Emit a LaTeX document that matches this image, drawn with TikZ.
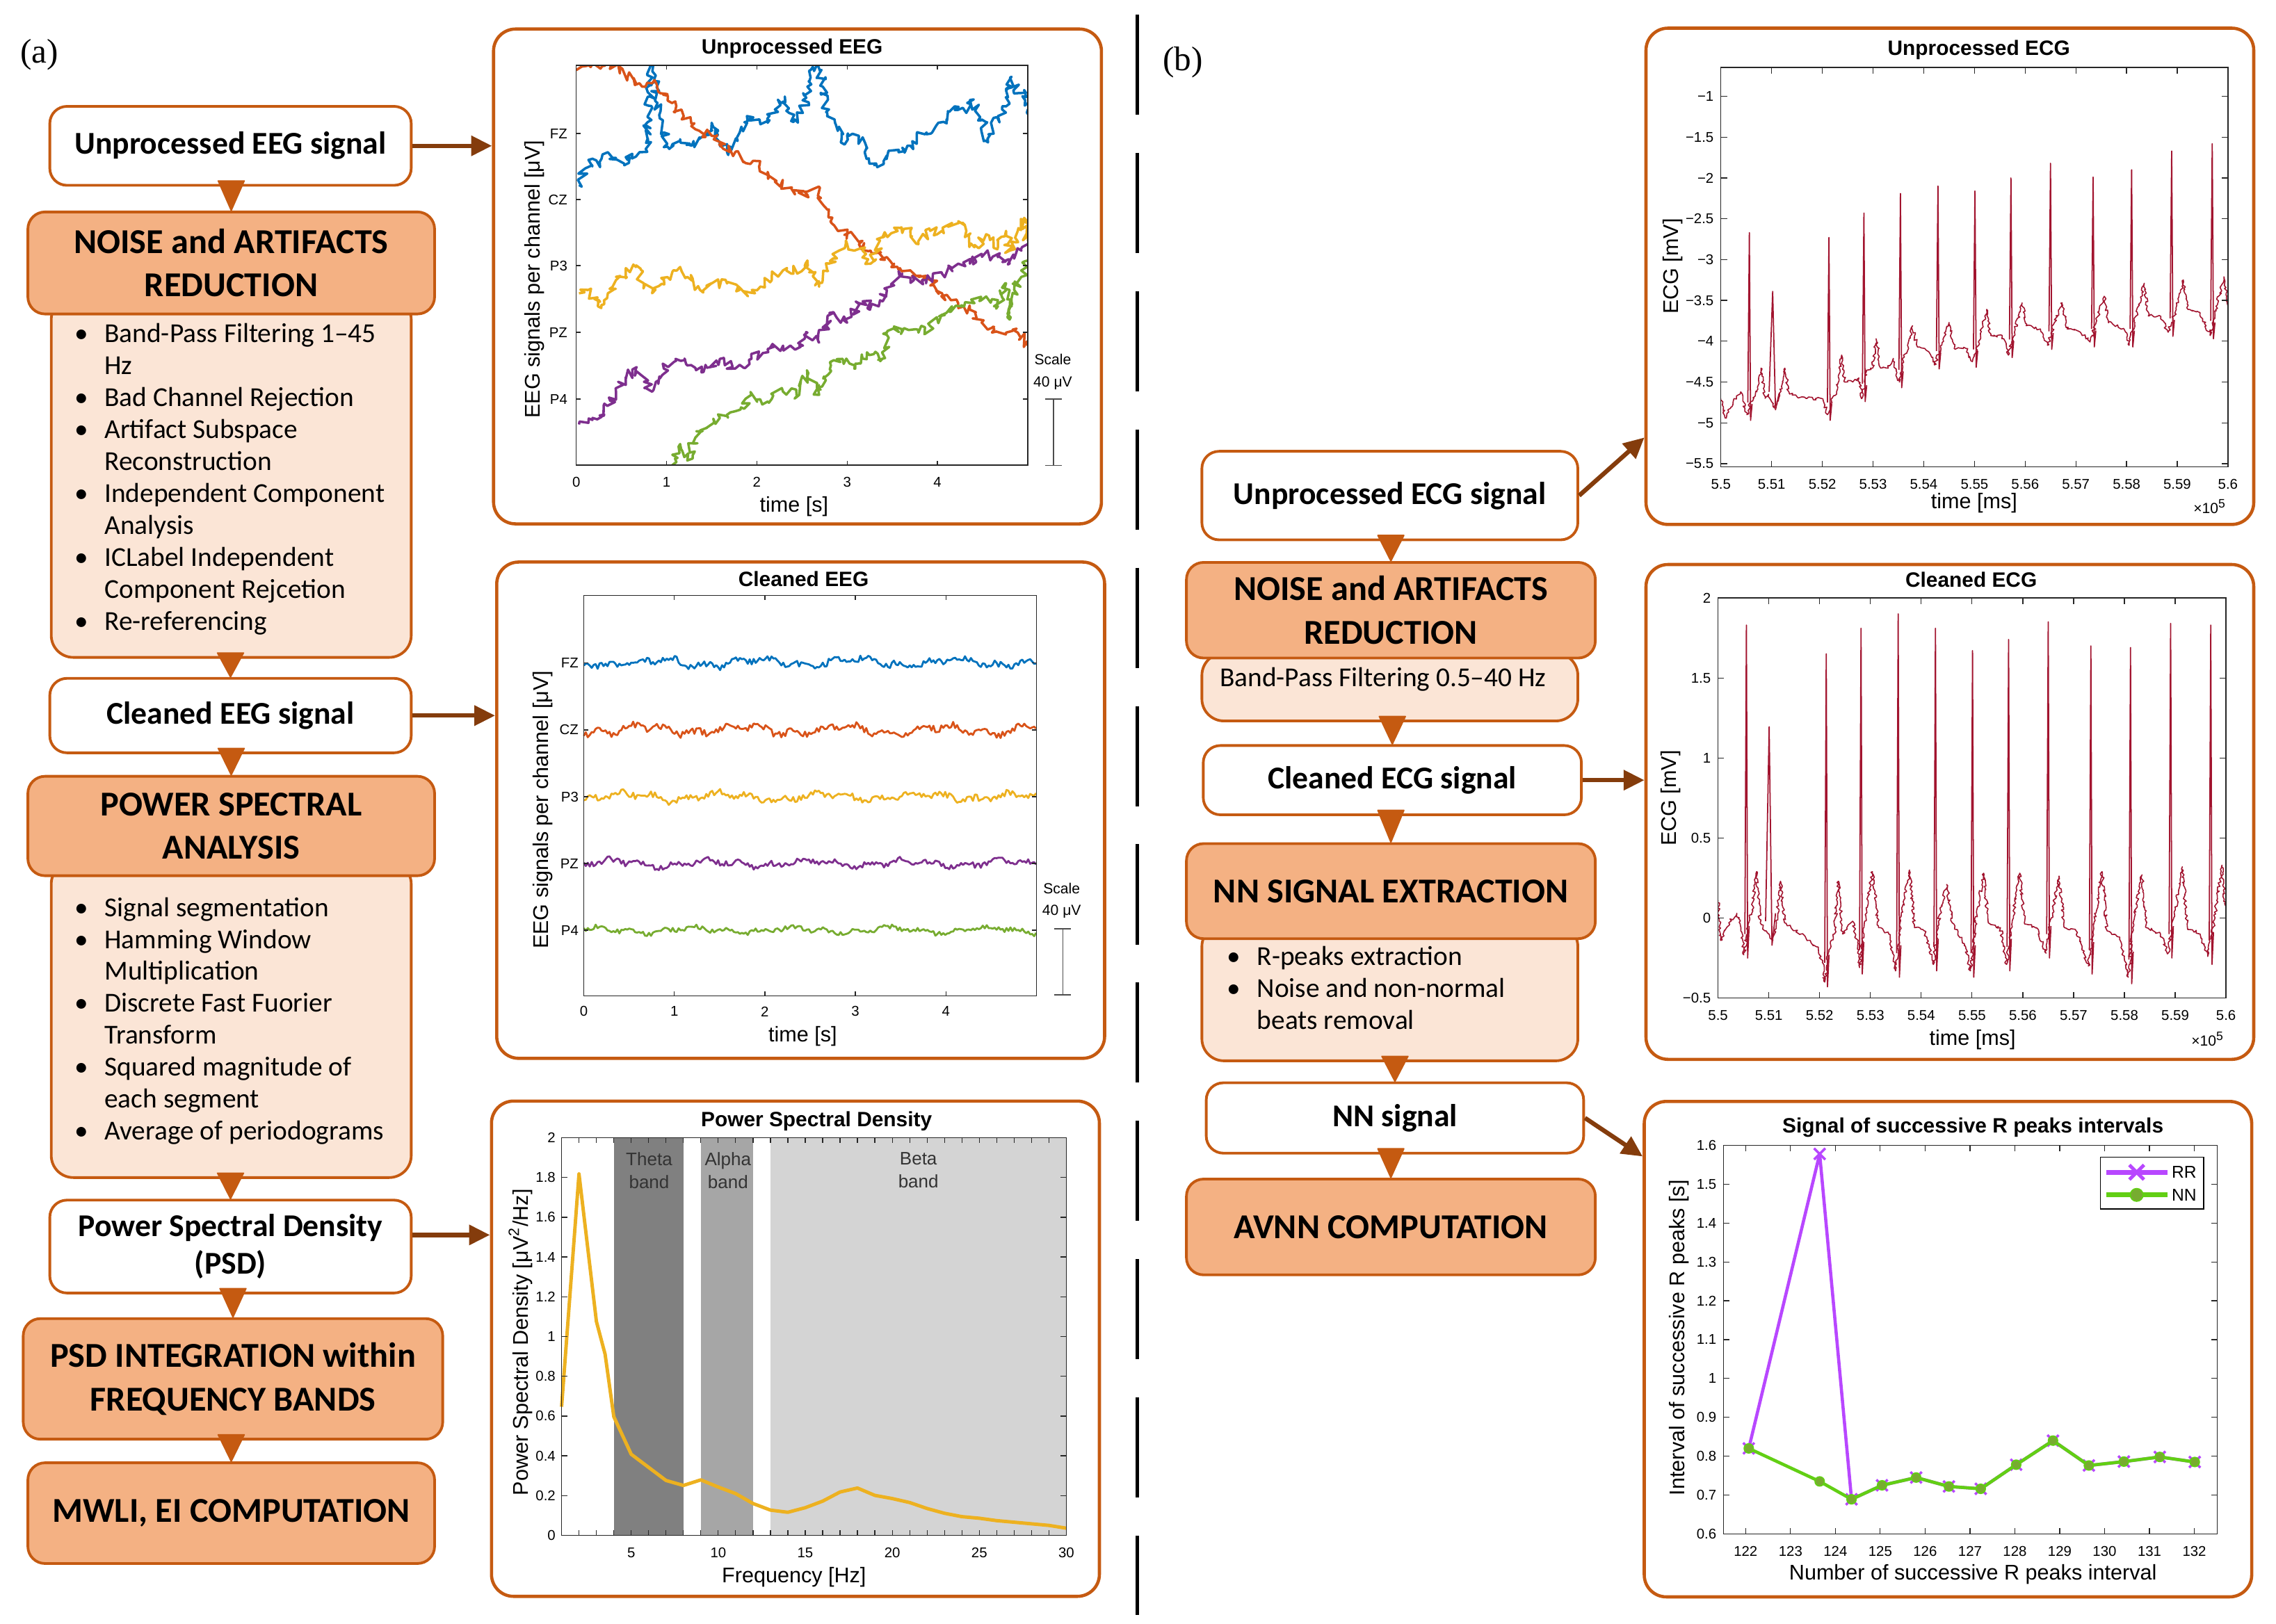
\documentclass[tikz,border=0pt]{standalone}
\usepackage{fontspec}
\setmainfont{Carlito}
\newfontfamily\plotfont{Liberation Sans}
\newfontfamily\letterfont{Liberation Serif}
\usepackage{tikz}
\usetikzlibrary{arrows.meta, calc, decorations.pathmorphing}

\definecolor{boxline}{HTML}{C55A11}
\definecolor{stepfill}{HTML}{F4B183}
\definecolor{listfill}{HTML}{FBE5D6}
\definecolor{linkbrown}{HTML}{843C0C}
\definecolor{eegblue}{HTML}{0072BD}
\definecolor{eegorange}{HTML}{D95319}
\definecolor{eegyellow}{HTML}{EDB120}
\definecolor{eegpurple}{HTML}{7E2F8E}
\definecolor{eeggreen}{HTML}{77AC30}
\definecolor{ecgred}{HTML}{A2142F}
\definecolor{rrpurple}{HTML}{B847FF}
\definecolor{nngreen}{HTML}{62CF14}
\definecolor{nnmark}{HTML}{77AC30}
\definecolor{thetagray}{HTML}{808080}
\definecolor{alphagray}{HTML}{A6A6A6}
\definecolor{betagray}{HTML}{D4D4D4}

\newcommand\pxl{0.5939pt}
\newcommand\bulitem[1]{\makebox[12.3pt][l]{\textbullet}#1}
\newcommand\contitem[1]{\hspace*{12.3pt}#1}
\newcommand\flowdown[2]{%
  \filldraw[flowtri] ($(#2.north |- #1.south)+(-9,-4)$) -- ($(#2.north |- #1.south)+(9,-4)$) -- (#2.north) -- cycle;}

\tikzset{
  flowbox/.style={draw=boxline, line width=1.1pt, rounded corners=7pt, fill=white,
    align=center, inner sep=0pt, font=\bfseries\fontsize{13}{15.4}\selectfont},
  stepbox/.style={flowbox, fill=stepfill, font=\bfseries\fontsize{14.3}{17.8}\selectfont},
  listbox/.style={draw=boxline, line width=1.1pt, rounded corners=9pt, fill=listfill, inner sep=0pt},
  listtext/.style={align=left, inner sep=0pt, font=\fontsize{11.2}{13.08}\selectfont},
  flowtri/.style={fill=boxline, draw=boxline, line width=0.5pt, line join=round},
  link/.style={draw=linkbrown, line width=1.8pt, -{Triangle[length=8.5pt,width=8pt]}},
  divider/.style={line width=1.4pt, dash pattern=on 41pt off 15.6pt},
  letter/.style={font=\letterfont\fontsize{14}{16}\selectfont},
  panel/.style={draw=boxline, line width=1.3pt, rounded corners=9pt, fill=white, inner sep=0pt},
  plottitle/.style={font=\plotfont\bfseries\fontsize{8.5}{10}\selectfont},
  axislabel/.style={font=\plotfont\fontsize{8.7}{10}\selectfont},
  ticklabel/.style={font=\plotfont\fontsize{5.8}{7}\selectfont, inner sep=0.5pt},
  smalllabel/.style={font=\plotfont\fontsize{6}{7}\selectfont, inner sep=0.5pt},
  bandlabel/.style={font=\plotfont\fontsize{7.4}{9.3}\selectfont, text=black!80, align=center},
  legtext/.style={font=\plotfont\fontsize{7}{8}\selectfont, inner sep=0.5pt},
  axisline/.style={draw=black!85, line width=0.35pt},
  scalebar/.style={draw=black!70, line width=0.5pt},
  rawtrace/.style={line width=1pt, line join=round, decorate,
    decoration={random steps, segment length=1.2pt, amplitude=2pt}},
  cleantrace/.style={line width=0.8pt, line join=round},
  ecgtrace/.style={draw=ecgred, line width=0.45pt, line join=round, decorate,
    decoration={random steps, segment length=0.8pt, amplitude=0.65pt}},
  spike/.style={draw=ecgred, line width=0.5pt, line join=round},
  psdline/.style={draw=eegyellow, line width=1.4pt, line join=round},
  rrline/.style={draw=rrpurple, line width=1.3pt, line join=round},
  nnline/.style={draw=nngreen, line width=1.3pt, line join=round},
}

\begin{document}
\begin{tikzpicture}[x=0.020874cm, y=-0.020874cm]
\useasboundingbox (0,0) rectangle (1568,1119);
\pgfmathsetseed{2718}

% Panel letters and divider
\node[letter] (laba) at (27,37.5) {(a)};
\node[letter] (labb) at (815,43) {(b)};
\draw[divider] (783.6,10) -- (783.6,1113);

% EEG flow
\node[listbox, minimum width=248*\pxl, minimum height=248*\pxl] (nar1list) at (159.3,329) {};
\node[listtext, anchor=north west] (nar1txt) at (51,222.6) {\bulitem{Band-Pass Filtering 1–45}\\\contitem{Hz}\\\bulitem{Bad Channel Rejection}\\\bulitem{Artifact Subspace}\\\contitem{Reconstruction}\\\bulitem{Independent Component}\\\contitem{Analysis}\\\bulitem{ICLabel Independent}\\\contitem{Component Rejcetion}\\\bulitem{Re-referencing}};
\node[stepbox, minimum width=280.2*\pxl, minimum height=70.3*\pxl] (nar1) at (159.3,181.2) {NOISE and ARTIFACTS\\REDUCTION};
\node[flowbox, minimum width=249*\pxl, minimum height=54.4*\pxl] (ueeg) at (158.8,100.5) {Unprocessed EEG signal};
\node[flowbox, minimum width=249*\pxl, minimum height=51.3*\pxl] (ceeg) at (158.8,493.1) {Cleaned EEG signal};
\node[listbox, minimum width=248*\pxl, minimum height=217.5*\pxl] (psalist) at (159.3,702.7) {};
\node[listtext, anchor=north west] (psatxt) at (51,618) {\bulitem{Signal segmentation}\\\bulitem{Hamming Window}\\\contitem{Multiplication}\\\bulitem{Discrete Fast Fuorier}\\\contitem{Transform}\\\bulitem{Squared magnitude of}\\\contitem{each segment}\\\bulitem{Average of periodograms}};
\node[stepbox, minimum width=280.2*\pxl, minimum height=68.5*\pxl] (psa) at (159.3,569.2) {POWER SPECTRAL\\ANALYSIS};
\node[flowbox, minimum width=249*\pxl, minimum height=64*\pxl] (psd) at (158.8,859) {Power Spectral Density\\(PSD)};
\node[stepbox, minimum width=289*\pxl, minimum height=83.1*\pxl] (psdint) at (160.5,950.2) {PSD INTEGRATION within\\FREQUENCY BANDS};
\node[stepbox, minimum width=280.2*\pxl, minimum height=69.4*\pxl] (mwli) at (159.3,1042.7) {MWLI, EI COMPUTATION};

\flowdown{ueeg}{nar1}
\flowdown{nar1list}{ceeg}
\flowdown{ceeg}{psa}
\flowdown{psalist}{psd}
\flowdown{psd}{psdint}
\flowdown{psdint}{mwli}

% ECG flow
\node[flowbox, minimum width=259*\pxl, minimum height=61*\pxl] (uecg) at (957.5,341.5) {Unprocessed ECG signal};
\node[listbox, minimum width=259*\pxl, minimum height=46.6*\pxl] (nar2list) at (957.5,473.5) {};
\node[listtext] (nar2txt) at (952.8,468) {Band-Pass Filtering 0.5–40 Hz};
\node[stepbox, minimum width=281.7*\pxl, minimum height=65.9*\pxl] (nar2) at (958.2,420.5) {NOISE and ARTIFACTS\\REDUCTION};
\node[flowbox, minimum width=260.5*\pxl, minimum height=47.7*\pxl] (cecg) at (959.2,537.6) {Cleaned ECG signal};
\node[listbox, minimum width=259*\pxl, minimum height=94*\pxl] (nnxlist) at (957.5,684) {};
\node[listtext, anchor=north west] (nnxtxt) at (845,651.8) {\bulitem{R-peaks extraction}\\\bulitem{Noise and non-normal}\\\contitem{beats removal}};
\node[stepbox, minimum width=281.7*\pxl, minimum height=65.5*\pxl] (nnx) at (958.2,614.1) {NN SIGNAL EXTRACTION};
\node[flowbox, minimum width=260*\pxl, minimum height=48.5*\pxl] (nnsig) at (961,770.4) {NN signal};
\node[stepbox, minimum width=281.7*\pxl, minimum height=66*\pxl] (avnn) at (958.2,845.5) {AVNN COMPUTATION};

\flowdown{uecg}{nar2}
\flowdown{nar2list}{cecg}
\flowdown{cecg}{nnx}
\flowdown{nnxlist}{nnsig}
\flowdown{nnsig}{avnn}

% Unprocessed EEG
\node[panel, minimum width=418.8*\pxl, minimum height=341*\pxl] (p1) at (549.4,190.5) {};
\node[plottitle] (p1title) at (545.7,33.6) {Unprocessed EEG};
\node[axislabel] (p1xlab) at (547,349) {time [s]};
\node[axislabel, rotate=90] (p1ylab) at (368.3,192.4) {EEG signals per channel [μV]};
\begin{scope}[shift={(397,0)}, x=1.2984cm]
  \begin{scope}
    \clip (0,45) rectangle (5,320.5);
    \draw[rawtrace, eegblue] plot coordinates {(0.03,127.5) (0.1,116) (0.18,109.4) (0.26,112) (0.35,104.9) (0.45,110) (0.53,113.9) (0.62,106) (0.70,104.9) (0.77,102.6) (0.815,66.5) (0.85,44) (0.90,71) (0.97,91.3) (1.03,102.6) (1.15,95.9) (1.28,100.4) (1.41,93.6) (1.50,84.6) (1.59,98.1) (1.67,104.9) (1.81,91.3) (1.89,80) (2.03,82.3) (2.12,84.6) (2.20,75.5) (2.31,66.5) (2.42,82.3) (2.51,77.8) (2.56,59.7) (2.62,46.1) (2.67,44) (2.73,59.7) (2.78,77.8) (2.86,82.3) (2.93,98.1) (3.00,93.6) (3.13,93.6) (3.24,109.4) (3.30,113.9) (3.44,107.1) (3.57,104.9) (3.70,100.4) (3.79,91.3) (3.88,91.3) (4.01,84.6) (4.10,82.3) (4.19,73.3) (4.32,77.8) (4.38,68.7) (4.49,82.3) (4.56,98.1) (4.67,80) (4.76,73.3) (4.82,52.9) (4.89,64.2) (4.96,62) (5.0,82.3)};
    \draw[rawtrace, eegorange] plot coordinates {(0.0,48.4) (0.11,43.4) (0.44,45) (0.57,52.9) (0.70,57.4) (0.84,57.4) (0.93,64.2) (1.06,71) (1.19,80) (1.32,89.1) (1.50,93.6) (1.63,102.6) (1.76,104.9) (1.85,111.7) (2.03,113.9) (2.12,118.5) (2.20,125.2) (2.38,129.8) (2.56,134.3) (2.64,129.8) (2.71,136.5) (2.82,152.4) (2.91,159.1) (3.00,161.4) (3.13,168.2) (3.26,172.7) (3.44,177.2) (3.52,181.7) (3.70,186.3) (3.79,190.8) (3.92,193) (4.05,202.1) (4.23,208.9) (4.36,213.4) (4.49,222.4) (4.63,227) (4.76,229.2) (4.89,229.2) (5.0,238.2)};
    \draw[rawtrace, eegyellow] plot coordinates {(0.03,202.1) (0.13,199.8) (0.24,211.1) (0.35,202.1) (0.44,193) (0.66,184) (0.75,195.3) (0.84,202.1) (0.97,193) (1.15,184) (1.23,190.8) (1.37,199.8) (1.50,195.3) (1.67,195.3) (1.81,199.8) (1.98,202.1) (2.12,193) (2.29,186.3) (2.38,188.5) (2.56,179.5) (2.69,197.6) (2.78,186.3) (2.91,172.7) (3.00,168.2) (3.08,172.7) (3.17,172.7) (3.26,181.7) (3.39,163.7) (3.52,156.9) (3.70,159.1) (3.79,168.2) (3.92,159.1) (4.05,159.1) (4.23,152.4) (4.32,159.1) (4.41,170.4) (4.54,161.4) (4.67,170.4) (4.76,159.1) (4.80,172.7) (4.89,159.1) (4.96,150.1) (5.0,165.9)};
    \draw[rawtrace, eegpurple] plot coordinates {(0.03,292.5) (0.18,288) (0.31,285.7) (0.44,269.9) (0.55,260.8) (0.66,254) (0.75,263.1) (0.84,269.9) (0.97,254) (1.10,247.3) (1.23,251.8) (1.41,256.3) (1.59,247.3) (1.76,254) (1.94,247.3) (2.12,240.5) (2.29,238.2) (2.47,238.2) (2.56,229.2) (2.69,236) (2.82,215.6) (3.00,222.4) (3.13,208.9) (3.35,211.1) (3.44,199.8) (3.61,188.5) (3.74,193) (3.88,193) (4.05,188.5) (4.23,181.7) (4.36,181.7) (4.49,174.9) (4.67,177.2) (4.80,181.7) (4.93,172.7) (5.0,168.2)};
    \draw[rawtrace, eeggreen] plot coordinates {(1.0,330) (1.06,320.7) (1.15,306) (1.23,317.3) (1.32,301.5) (1.45,294.7) (1.59,288) (1.76,283.4) (1.94,272.1) (2.12,276.7) (2.29,269.9) (2.47,272.1) (2.56,256.3) (2.69,272.1) (2.82,251.8) (2.95,247.3) (3.08,254) (3.22,242.8) (3.39,247.3) (3.44,229.2) (3.61,226.9) (3.79,229.2) (3.92,224.7) (4.10,215.6) (4.27,211.1) (4.41,208.9) (4.54,204.3) (4.67,211.1) (4.76,195.3) (4.80,220.2) (4.85,199.8) (4.93,190.8) (5.0,179.5)};
  \end{scope}
  \draw[axisline] (0,45) rectangle (5,320.5);
  \foreach \t in {0,...,4} {
    \draw[axisline] (\t,320.5) -- ++(0,-3) (\t,45) -- ++(0,3);
    \node[ticklabel] (p1x\t) at (\t,332) {\t};
  }
  \foreach \c/\lev in {FZ/92,CZ/137.5,P3/183,PZ/229,P4/275} {
    \draw[axisline] (0,\lev) -- ++(0.05,0) (5,\lev) -- ++(-0.05,0);
    \node[ticklabel, anchor=east] (p1c\c) at (-0.08,\lev) {\c};
  }
\end{scope}
\node[smalllabel] (p1scale) at (725.3,247.7) {Scale};
\node[smalllabel] (p1amp) at (725.3,264) {40 μV};
\draw[scalebar] (720.1,275) -- (731.5,275) (725.8,275) -- (725.8,320.7) (720.1,320.7) -- (731.5,320.7);

% Cleaned EEG
\node[panel, minimum width=418.8*\pxl, minimum height=342*\pxl] (p2) at (551.6,558.3) {};
\node[plottitle] (p2title) at (553.6,399) {Cleaned EEG};
\node[axislabel] (p2xlab) at (553,714.3) {time [s]};
\node[axislabel, rotate=90] (p2ylab) at (373.9,558) {EEG signals per channel [μV]};
\begin{scope}[shift={(402.2,0)}, x=1.3017cm]
  \foreach \lev/\col/\a/\b/\n/\ph in {456.7/eegblue/2.2/1.6/2.2/0, 503/eegorange/2.4/1.7/2.4/50, 549/eegyellow/2.2/1.6/2.2/110, 595/eegpurple/1.8/1.3/1.8/170, 641/eeggreen/1.6/1.2/1.6/230}
    \draw[cleantrace, \col] plot[domain=0:5, samples=230] (\x, {\lev + \a*sin(\x*330+\ph) + \b*sin(\x*1010+2*\ph) + \n*rand});
  \draw[axisline] (0,410.4) rectangle (5,686.2);
  \foreach \t in {0,...,4} {
    \draw[axisline] (\t,686.2) -- ++(0,-3) (\t,410.4) -- ++(0,3);
    \node[ticklabel] (p2x\t) at (\t,697) {\t};
  }
  \foreach \c/\lev in {FZ/456.7,CZ/503,P3/549,PZ/595,P4/641} {
    \draw[axisline] (0,\lev) -- ++(0.05,0) (5,\lev) -- ++(-0.05,0);
    \node[ticklabel, anchor=east] (p2c\c) at (-0.04,\lev) {\c};
  }
\end{scope}
\node[smalllabel] (p2scale) at (731.4,612) {Scale};
\node[smalllabel] (p2amp) at (731.4,628) {40 μV};
\draw[scalebar] (726.4,639.9) -- (737.7,639.9) (732.2,639.9) -- (732.2,685.5) (726.4,685.5) -- (737.7,685.5);

% Power spectral density
\node[panel, minimum width=418.8*\pxl, minimum height=341.3*\pxl] (p3) at (548,929.4) {};
\node[plottitle] (p3title) at (562.5,772.7) {Power Spectral Density};
\node[axislabel] (p3xlab) at (547,1087) {Frequency [Hz]};
\node[axislabel, rotate=90] (p3ylab) at (358.7,925) {Power Spectral Density [μV\textsuperscript{2}/Hz]};
\begin{scope}[shift={(374.9,1058)}, x=0.25028cm, y=2.8597cm]
  \fill[thetagray] (4,0) rectangle (8,2);
  \fill[alphagray] (9,0) rectangle (12,2);
  \fill[betagray] (13,0) rectangle (30,2);
  \draw[psdline] plot coordinates {(1,0.647) (2,1.818) (3,1.076) (3.5,0.911) (4,0.597) (5,0.408) (6,0.342) (7,0.276) (8,0.251) (9,0.279) (10,0.243) (11,0.21) (12,0.16) (13,0.127) (14,0.116) (15,0.139) (16,0.172) (17,0.218) (18,0.238) (19,0.201) (20,0.185) (21,0.165) (22,0.135) (23,0.111) (24,0.094) (25,0.086) (26,0.074) (27,0.066) (28,0.058) (29,0.05) (30,0.036)};
  \draw[axisline] (1,0) rectangle (30,2);
  \foreach \f in {1,...,30}
    \draw[axisline] (\f,0) -- ++(0pt,2.2pt) (\f,2) -- ++(0pt,-2.2pt);
  \foreach \f in {5,10,...,30}
    \node[ticklabel, anchor=north, yshift=-4.3pt] (p3x\f) at (\f,0) {\f};
  \foreach \v [count=\k] in {0,0.2,0.4,0.6,0.8,1,1.2,1.4,1.6,1.8,2} {
    \draw[axisline] (1,\v) -- ++(2.5pt,0pt) (30,\v) -- ++(-2.5pt,0pt);
    \node[ticklabel, anchor=east, xshift=-1.8pt] (p3y\k) at (1,\v) {\v};
  }
\end{scope}
\node[bandlabel] (theta) at (447.2,806.5) {Theta\\band};
\node[bandlabel] (alpha) at (501.5,806.5) {Alpha\\band};
\node[bandlabel] (beta) at (632.7,806.5) {Beta\\band};

% Unprocessed ECG
\node[panel, minimum width=418.7*\pxl, minimum height=342*\pxl] (p4) at (1343.3,190.4) {};
\node[plottitle] (p4title) at (1363.3,34.3) {Unprocessed ECG};
\node[axislabel] (p4xlab) at (1360,346.7) {time [ms]};
\node[axislabel, rotate=90] (p4ylab) at (1152.6,183.5) {ECG [mV]};
\node[smalllabel] (p4exp) at (1522.5,349) {×10\textsuperscript{5}};
\begin{scope}[shift={(1185.6,10.16)}, x=0.072913cm, y=1.17396cm]
  \begin{scope}
    \clip (0,-5.54) rectangle (100,-0.646);
    \draw[ecgtrace] plot coordinates {(0,-4.70) (0.8,-4.94) (2.4,-4.74) (3.9,-4.62) (5.1,-4.90) (5.9,-4.74) (7.1,-4.62) (7.9,-4.33) (8.7,-4.70) (9.4,-4.65) (10.6,-4.82) (11.4,-4.70) (12.6,-4.33) (13.4,-4.62) (15,-4.68) (17,-4.70) (19.7,-4.70) (20.5,-4.78) (21.0,-4.90) (21.9,-4.70) (22.8,-4.62) (23.8,-4.17) (24.4,-4.50) (26,-4.50) (27.2,-4.45) (27.8,-4.70) (28.7,-4.37) (29.9,-4.33) (30.6,-3.97) (31.5,-4.33) (33,-4.33) (34,-4.21) (34.6,-4.37) (35.2,-4.50) (36,-4.17) (37,-4.09) (37.8,-3.81) (38.6,-4.05) (41,-4.13) (42.1,-4.29) (43.4,-4.09) (45,-3.77) (46,-4.09) (48.4,-4.09) (49.6,-4.25) (50.8,-4.01) (52.4,-3.61) (53.2,-3.93) (55.5,-3.93) (56.7,-4.17) (57.9,-3.89) (59.4,-3.53) (60.2,-3.81) (63,-3.85) (64.4,-4.05) (65.8,-3.77) (67.3,-3.53) (68.3,-3.85) (70.9,-3.89) (72.8,-4.01) (74.0,-3.77) (75.6,-3.45) (76.4,-3.77) (79.5,-3.85) (80.5,-4.05) (81.9,-3.69) (83.5,-3.29) (84.3,-3.69) (86.6,-3.69) (88.2,-3.89) (89.8,-3.61) (91.2,-3.25) (92.1,-3.61) (94.5,-3.65) (96.5,-3.93) (97.6,-3.61) (99.2,-3.21) (100,-3.57)};
    \foreach \r/\p/\b/\w in {5.6/-2.67/-4.85/0.3, 10.2/-3.39/-4.72/0.7, 21.3/-2.73/-4.85/0.3, 28.2/-2.43/-4.62/0.3, 35.4/-2.19/-4.45/0.3, 42.8/-2.10/-4.22/0.3, 50.1/-2.16/-4.2/0.3, 57.2/-2.0/-4.08/0.3, 65.0/-1.82/-3.98/0.3, 73.4/-1.99/-3.95/0.3, 81.0/-1.90/-3.95/0.3, 88.9/-1.67/-3.82/0.3, 96.9/-1.58/-3.85/0.3}
      \draw[spike] (\r-\w,\b+0.1) -- (\r,\p) -- (\r+0.8*\w,\b-0.12) -- (\r+1.8*\w,\b+0.08);
  \end{scope}
  \draw[axisline] (0,-5.54) rectangle (100,-0.646);
  \foreach \u/\lab [count=\k] in {0/5.5,10/5.51,20/5.52,30/5.53,40/5.54,50/5.55,60/5.56,70/5.57,80/5.58,90/5.59,100/5.6} {
    \draw[axisline] (\u,-5.54) -- ++(0pt,2.5pt) (\u,-0.646) -- ++(0pt,-2.5pt);
    \node[ticklabel, anchor=north, yshift=-4.3pt] (p4x\k) at (\u,-5.54) {\lab};
  }
  \foreach \v/\lab [count=\k] in {-1/−1,-1.5/−1.5,-2/−2,-2.5/−2.5,-3/−3,-3.5/−3.5,-4/−4,-4.5/−4.5,-5/−5,-5.5/−5.5} {
    \draw[axisline] (0,\v) -- ++(2.5pt,0pt) (100,\v) -- ++(-2.5pt,0pt);
    \node[ticklabel, anchor=east, xshift=-2.3pt] (p4y\k) at (0,\v) {\lab};
  }
\end{scope}

% Cleaned ECG
\node[panel, minimum width=418.7*\pxl, minimum height=341*\pxl] (p5) at (1343.3,559.5) {};
\node[plottitle] (p5title) at (1358,399.5) {Cleaned ECG};
\node[axislabel] (p5xlab) at (1358.9,716.7) {time [ms]};
\node[axislabel, rotate=90] (p5ylab) at (1151,550) {ECG [mV]};
\node[smalllabel] (p5exp) at (1521,716) {×10\textsuperscript{5}};
\begin{scope}[shift={(1183.6,632.6)}, x=0.073038cm, y=2.3024cm]
  \begin{scope}
    \clip (0,-0.5) rectangle (100,2);
    \draw[ecgtrace] plot coordinates {(0,0.11) (0.55,-0.14) (2.1,-0.03) (3.7,0.03) (4.5,-0.06) (5.1,-0.23) (6.05,-0.03) (6.7,0.05) (7.6,0.29) (8.3,-0.03) (9.2,-0.08) (10.8,-0.14) (11.5,-0.03) (12.3,0.23) (13.1,-0.03) (16.3,-0.10) (19.4,-0.18) (20.6,-0.28) (21.0,-0.40) (21.8,-0.20) (22.9,-0.10) (23.7,0.23) (24.5,-0.10) (26.5,-0.02) (27.7,-0.20) (27.9,-0.31) (28.9,-0.02) (30.4,0.29) (31.6,-0.06) (33.6,-0.10) (34.9,-0.33) (35.9,-0.02) (37.7,0.30) (38.7,-0.06) (40.6,-0.08) (42.4,-0.29) (43.4,-0.02) (45.0,0.21) (46.1,-0.03) (48.5,-0.16) (49.7,-0.33) (50.7,-0.02) (52.3,0.28) (53.2,-0.03) (55.6,-0.06) (56.8,-0.29) (57.9,-0.02) (59.4,0.28) (60.3,-0.03) (62.7,-0.06) (64.6,-0.22) (65.6,0.0) (67.1,0.26) (68.2,-0.06) (70.5,-0.08) (72.9,-0.30) (74.1,-0.02) (75.6,0.29) (76.6,-0.08) (79.1,-0.12) (80.8,-0.37) (81.7,-0.03) (83.5,0.27) (84.3,-0.06) (87.1,-0.10) (88.6,-0.22) (89.7,0.0) (91.4,0.32) (92.4,-0.06) (94.9,-0.10) (96.4,-0.24) (97.6,-0.03) (99.2,0.33) (100,0.0)};
    \foreach \r/\p/\b/\w in {5.58/1.83/-0.2/0.3, 10.06/1.195/-0.12/0.7, 21.3/1.65/-0.38/0.3, 28.15/1.81/-0.3/0.3, 35.46/1.90/-0.32/0.3, 42.8/1.81/-0.28/0.3, 50.1/1.67/-0.32/0.3, 57.2/1.74/-0.28/0.3, 65.0/1.85/-0.2/0.3, 73.4/1.70/-0.3/0.3, 81.2/1.69/-0.36/0.3, 89.1/1.84/-0.2/0.3, 97.0/1.83/-0.24/0.3}
      \draw[spike] (\r-\w,\b+0.1) -- (\r,\p) -- (\r+0.8*\w,\b-0.05) -- (\r+1.8*\w,\b+0.15);
  \end{scope}
  \draw[axisline] (0,-0.5) rectangle (100,2);
  \foreach \u/\lab [count=\k] in {0/5.5,10/5.51,20/5.52,30/5.53,40/5.54,50/5.55,60/5.56,70/5.57,80/5.58,90/5.59,100/5.6} {
    \draw[axisline] (\u,-0.5) -- ++(0pt,2.5pt) (\u,2) -- ++(0pt,-2.5pt);
    \node[ticklabel, anchor=north, yshift=-4.3pt] (p5x\k) at (\u,-0.5) {\lab};
  }
  \foreach \v/\lab [count=\k] in {2/2,1.5/1.5,1/1,0.5/0.5,0/0,-0.5/−0.5} {
    \draw[axisline] (0,\v) -- ++(2.5pt,0pt) (100,\v) -- ++(-2.5pt,0pt);
    \node[ticklabel, anchor=east, xshift=-2.3pt] (p5y\k) at (0,\v) {\lab};
  }
\end{scope}

% R peak intervals
\node[panel, minimum width=418.5*\pxl, minimum height=341.4*\pxl] (p6) at (1342,929.7) {};
\node[plottitle] (p6title) at (1359.2,777) {Signal of successive R peaks intervals};
\node[axislabel] (p6xlab) at (1359.2,1084.7) {Number of successive R peaks interval};
\node[axislabel, rotate=90] (p6ylab) at (1156.7,921.8) {Interval of successive R peaks [s]};
\begin{scope}[shift={(1202.6,1217.6)}, x=0.64522cm, y=5.58797cm]
  \draw[axisline] (-0.49,0.6) rectangle (10.51,1.6);
  \foreach \n/\lab in {0/122,1/123,2/124,3/125,4/126,5/127,6/128,7/129,8/130,9/131,10/132} {
    \draw[axisline] (\n,0.6) -- ++(0pt,2.5pt) (\n,1.6) -- ++(0pt,-2.5pt);
    \node[ticklabel, anchor=north, yshift=-4.3pt] (p6x\lab) at (\n,0.6) {\lab};
  }
  \foreach \v [count=\k] in {0.6,0.7,0.8,0.9,1,1.1,1.2,1.3,1.4,1.5,1.6} {
    \draw[axisline] (-0.49,\v) -- ++(2.5pt,0pt) (10.51,\v) -- ++(-2.5pt,0pt);
    \node[ticklabel, anchor=east, xshift=-2.3pt] (p6y\k) at (-0.49,\v) {\v};
  }
  \draw[rrline] plot coordinates {(0.07,0.82) (1.65,1.578) (2.36,0.689) (3.04,0.725) (3.8,0.745) (4.53,0.722) (5.24,0.716) (6.03,0.778) (6.85,0.84) (7.65,0.776) (8.43,0.786) (9.23,0.798) (10.01,0.785)};
  \foreach \n/\v in {0.07/0.82, 1.65/1.578, 2.36/0.689, 3.04/0.725, 3.8/0.745, 4.53/0.722, 5.24/0.716, 6.03/0.778, 6.85/0.84, 7.65/0.776, 8.43/0.786, 9.23/0.798, 10.01/0.785}
    \draw[rrpurple, line width=1pt] (\n,\v) ++(-2.3pt,-2.3pt) -- ++(4.6pt,4.6pt) ++(-4.6pt,0pt) -- ++(4.6pt,-4.6pt);
  \draw[nnline] plot coordinates {(0.07,0.82) (1.65,0.735) (2.36,0.689) (3.04,0.725) (3.8,0.745) (4.53,0.722) (5.24,0.716) (6.03,0.778) (6.85,0.84) (7.65,0.776) (8.43,0.786) (9.23,0.798) (10.01,0.785)};
  \foreach \n/\v in {0.07/0.82, 1.65/0.735, 2.36/0.689, 3.04/0.725, 3.8/0.745, 4.53/0.722, 5.24/0.716, 6.03/0.778, 6.85/0.84, 7.65/0.776, 8.43/0.786, 9.23/0.798, 10.01/0.785}
    \filldraw[fill=nnmark, draw=nngreen, line width=0.5pt] (\n,\v) circle[radius=1.9pt];
\end{scope}
\node[draw=black, line width=0.5pt, fill=white, inner sep=0pt, minimum width=71*\pxl, minimum height=35.5*\pxl] (legbox) at (1482.5,815.2) {};
\draw[rrline, line width=2pt] (1451,807.8) -- (1493,807.8);
\draw[rrpurple, line width=1.4pt] (1472,807.8) ++(-3pt,-3pt) -- ++(6pt,6pt) ++(-6pt,0pt) -- ++(6pt,-6pt);
\draw[nnline, line width=2pt] (1451,823.4) -- (1493,823.4);
\filldraw[fill=nnmark, draw=nngreen, line width=0.5pt] (1472,823.4) circle[radius=2.6pt];
\node[legtext, anchor=west] (legrr) at (1495,807.8) {RR};
\node[legtext, anchor=west] (legnn) at (1495,823.4) {NN};

% Links to the plots
\coordinate (psdout) at ($(psd.east)+(0,-8)$);
\draw[link] (ueeg.east) -- (ueeg.east -| p1.west);
\draw[link] (ceeg.east) -- (ceeg.east -| p2.west);
\draw[link] (psdout) -- (psdout -| p3.west);
\draw[link] (uecg.east) -- ($(p4.south west)+(0,-61)$);
\draw[link] (cecg.east) -- (cecg.east -| p5.west);
\draw[link] (nnsig.east) -- ($(p6.north west)+(0,39)$);
\end{tikzpicture}
\end{document}
